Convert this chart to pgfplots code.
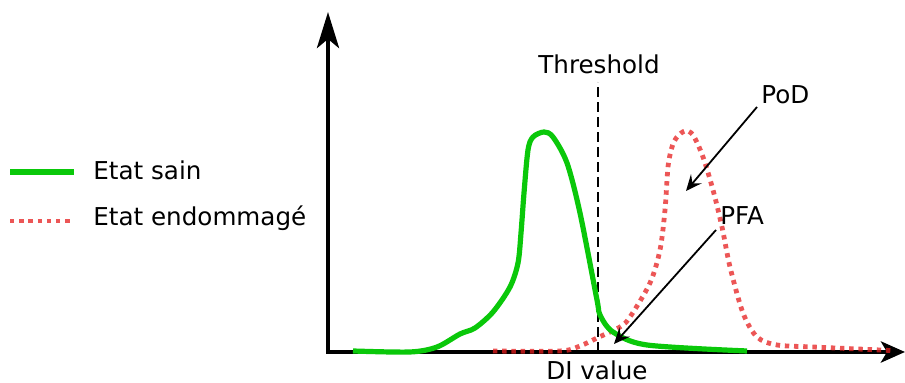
\documentclass[border=0pt]{standalone}
\usepackage{pgfplots}
\pgfplotsset{compat=1.18}
\usepackage{fontspec}
\setmainfont{DejaVu Sans}
\usetikzlibrary{arrows.meta}

\definecolor{sain}{RGB}{10,200,10}
\definecolor{endo}{RGB}{230,30,30}

\begin{document}
\begin{tikzpicture}[font=\fontsize{12.3}{14}\selectfont]
\begin{axis}[
    x=0.5pt, y=0.5pt,
    xmin=0, xmax=905, ymin=0, ymax=383,
    hide axis, clip=false, scale only axis,
]
\coordinate (bl) at (axis cs:0,0);
\coordinate (tr) at (axis cs:905,383);

% axes with arrows
\addplot[black, line width=2.4pt, -{Stealth[length=12pt,width=10.5pt,inset=3pt]}]
coordinates {(326,31)(905,31)};
\addplot[black, line width=2.4pt, -{Stealth[length=18pt,width=11pt,inset=4.5pt]}]
coordinates {(328,29)(328,371)};

% threshold
\addplot[black, line width=1.4pt, dash pattern=on 5pt off 2.5pt]
coordinates {(598,31)(598,301)};

% damaged state
\addplot[endo, opacity=0.75, line width=2.4pt, dash pattern=on 2.2pt off 2.4pt, smooth, tension=0.5]
coordinates {(493,32)(560,32)(580,37)(597,45)(620,56)(630,66)(650,100)(660,133)
(665,173)(668,216)(672,236)(677,246)(685,252)(693,248)(703,226)(713,193)(722,156)
(730,116)(743,70)(757,46)(777,38)(813,36)(880,33)(895,32)};

% healthy state
\addplot[sain, line width=2.6pt, smooth, tension=0.5]
coordinates {(353,32)(410,31)(437,36)(460,49)(475,55)(493,71)(510,96)(518,120)
(521,150)(524,190)(528,233)(533,246)(544,251)(553,246)(567,220)(580,170)
(597,83)(600,68)(613,51)(647,38)(747,32)};

% legend
\addplot[sain, line width=2.6pt] coordinates {(10,211)(74,211)};
\addplot[endo, opacity=0.75, line width=2.4pt, dash pattern=on 2.2pt off 2.4pt]
coordinates {(10,162)(74,162)};
\node[anchor=base west, inner sep=0] at (axis cs:93,203) {Etat sain};
\node[anchor=base west, inner sep=0] at (axis cs:93,157) {Etat endommagé};

% labels
\node[anchor=base, inner sep=0] at (axis cs:599,309.5) {Threshold};
\node[anchor=base, inner sep=0] at (axis cs:597,3) {DI value};
\node[anchor=base west, inner sep=0] at (axis cs:761,279) {PoD};
\node[anchor=base west, inner sep=0] at (axis cs:720,158) {PFA};

\draw[line width=0.9pt, -{Stealth[length=8pt,width=7pt,inset=3pt]}]
(axis cs:757,276) -- (axis cs:686,192);
\draw[line width=0.9pt, -{Stealth[length=8pt,width=7pt,inset=3pt]}]
(axis cs:716,153) -- (axis cs:614,39);
\end{axis}
\pgfresetboundingbox
\path (bl) rectangle (tr);
\end{tikzpicture}
\end{document}
